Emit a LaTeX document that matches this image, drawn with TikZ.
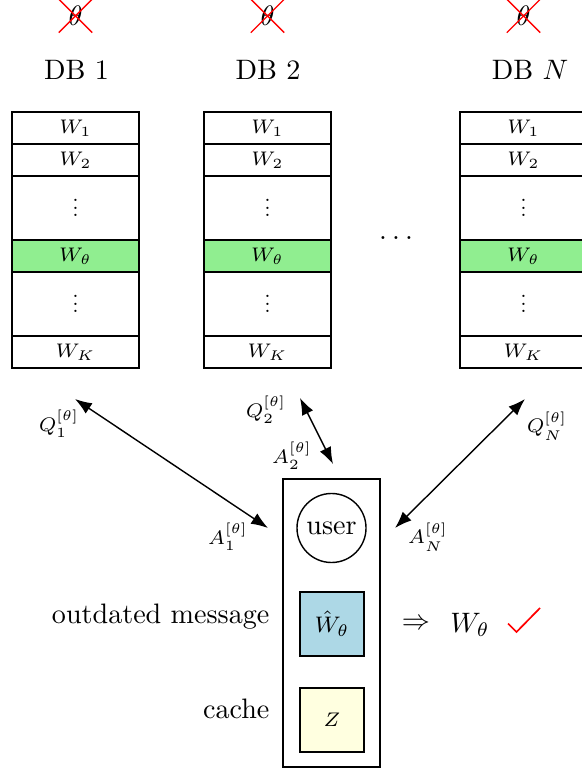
\documentclass[tikz,border=0pt]{standalone}
\usetikzlibrary{arrows.meta,shapes.misc}
\definecolor{dbgreen}{HTML}{90EE90}
\definecolor{lblue}{HTML}{ADD8E6}
\definecolor{lyellow}{HTML}{FFFFE0}
\newcommand\myvdots{\vbox{\baselineskip2.6pt\lineskiplimit0pt\hbox{.}\hbox{.}\hbox{.}}}
\begin{document}
\begin{tikzpicture}[x=0.0125cm,y=-0.0125cm,
  row/.style={draw, minimum width=1.5875cm, minimum height=0.4cm, inner sep=0pt, line width=0.5pt, font=\scriptsize},
  tallrow/.style={row, minimum height=0.8cm},
  hit/.style={row, fill=dbgreen},
  dbtitle/.style={inner sep=0pt},
  xcross/.style={draw=red, cross out, minimum size=0.4cm, inner sep=0pt, line width=0.5pt},
  lbl/.style={font=\scriptsize, inner sep=0pt},
  link/.style={{Latex[length=6pt,width=4.4pt]}-{Latex[length=6pt,width=4.4pt]}, line width=0.5pt},
  sq/.style={draw, minimum size=0.8cm, inner sep=0pt, line width=0.5pt}
]
\useasboundingbox (0,0) rectangle (581,771);

\foreach \cx/\tx/\id/\lab in {75.5/76.5/1/1, 267.5/268/2/2, 523.5/530/N/$N$} {
  \node[xcross] (x\id) at (\cx,16) {$\theta$};
  \node[dbtitle] (title\id) at (\tx,70) {DB \lab};
  \node[row] (wa\id) at (\cx,128) {$W_1$};
  \node[row] (wb\id) at (\cx,160) {$W_2$};
  \node[tallrow] (da\id) at (\cx,208) {\myvdots};
  \node[hit] (wt\id) at (\cx,256) {$W_\theta$};
  \node[tallrow] (dc\id) at (\cx,304) {\myvdots};
  \node[row] (wk\id) at (\cx,352) {$W_K$};
}
\node[anchor=base, inner sep=0pt] (hdots) at (396,239.5) {.\kern1.85pt.\kern1.85pt.};

% user device
\node[draw, line width=0.5pt, minimum width=1.2125cm, minimum height=3.6cm, inner sep=0pt] (dev) at (331.5,623) {};
\node[draw, circle, line width=0.5pt, minimum size=0.8625cm, inner sep=0pt] (user) at (331.5,528) {user};
\node[sq, fill=lblue, font=\footnotesize] (what) at (332,624) {$\hat{W}_\theta$};
\node[sq, fill=lyellow, font=\scriptsize] (cache) at (332,720) {$Z$};
\node[anchor=base east, inner sep=0pt] (outl) at (270,623) {outdated message};
\node[anchor=base east, inner sep=0pt] (cachel) at (270,718) {cache};
\node[inner sep=0pt] (impl) at (416,624) {$\Rightarrow$};
\node[inner sep=0pt] (res) at (470,625) {$W_\theta$};
\draw[red, line width=0.6pt] (508,623.5) -- (516.5,632) -- (540,608);

% arrows
\coordinate (q1) at (75,399);
\coordinate (a1) at (268,528);
\coordinate (q2) at (300,398);
\coordinate (a2) at (333,464);
\coordinate (qN) at (525,399);
\coordinate (aN) at (395,528);
\draw[link] (q1) -- (a1);
\draw[link] (q2) -- (a2);
\draw[link] (qN) -- (aN);

\node[lbl] (lq1) at (59,424) {$Q_1^{[\theta]}$};
\node[lbl] (la1) at (228,537) {$A_1^{[\theta]}$};
\node[lbl] (lq2) at (266,410) {$Q_2^{[\theta]}$};
\node[lbl] (la2) at (292,456) {$A_2^{[\theta]}$};
\node[lbl] (lqN) at (547,426) {$Q_N^{[\theta]}$};
\node[lbl] (laN) at (428,537) {$A_N^{[\theta]}$};
\end{tikzpicture}
\end{document}
